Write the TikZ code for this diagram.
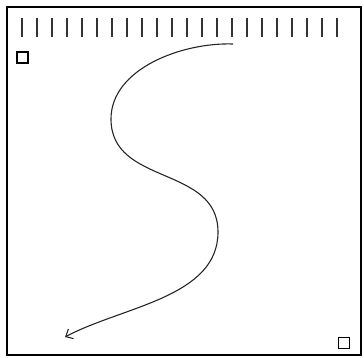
\documentclass[tikz,border=0pt]{standalone}
\usetikzlibrary{arrows.meta}
\begin{document}
\begin{tikzpicture}[
  x=1pt,
  y=-1pt,
  frame/.style={draw=black,line width=1.4pt},
  tick/.style={draw=black!80,line width=1.1pt},
  marker/.style={rectangle,draw=black,line width=1.1pt,fill=white,minimum size=11pt,inner sep=0pt},
  path/.style={draw=black!85,line width=1.1pt}
]
  \useasboundingbox (0,0) rectangle (364,358);
  \draw[frame] (7,7) rectangle (361,355);
  \foreach \i in {0,...,21}
    \draw[tick] (22+15*\i,18)--(22+15*\i,37);

  \node[marker] (m0) at (22.5,57.5) {};
  \node[marker] (m1) at (344,343) {};

  \coordinate (p0) at (233,44);
  \coordinate (p1) at (111,119);
  \coordinate (p2) at (218,232);
  \coordinate (p3) at (65,337);
  \draw[path,-{Straight Barb[length=6pt,width=11pt]}]
    (p0) to[out=178,in=90,looseness=0.9] (p1)
         to[out=-90,in=90,looseness=1.1] (p2)
         to[out=-90,in=28,looseness=0.9] (p3);
\end{tikzpicture}
\end{document}
